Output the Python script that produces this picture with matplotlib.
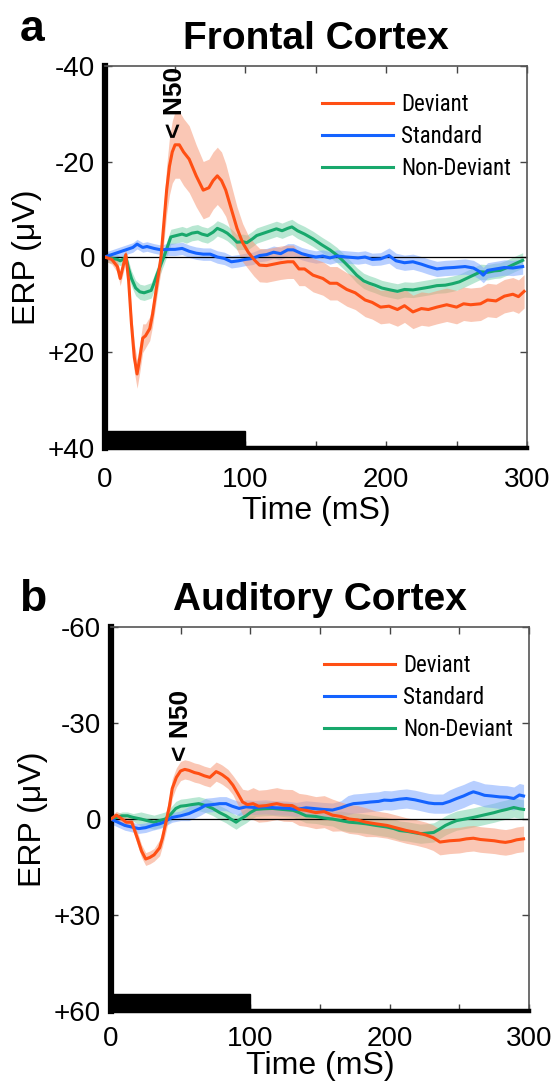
import matplotlib
matplotlib.use("Agg")
import numpy as np
import matplotlib.pyplot as plt
from matplotlib.font_manager import FontProperties

plt.rcParams["font.family"] = ["Liberation Sans", "DejaVu Sans"]

# ---- Frontal cortex (panel a) ----
fr_dev_t = [0, 5, 9, 11, 13, 15, 17, 19, 21, 23, 25, 27, 29, 32, 34, 36, 38, 40, 42, 44, 46, 48, 50, 53,
            56, 60, 65, 70, 74, 77, 80, 83, 86, 90, 94, 98, 102, 106, 110, 115, 120, 125, 130, 134, 138,
            142, 148, 155, 160, 165, 172, 178, 185, 190, 196, 202, 208, 213, 219, 225, 230, 236, 243,
            250, 255, 260, 267, 272, 278, 284, 290, 294, 298]
fr_dev_v = [0, 0.5, 2, 4.5, 2, -0.5, 5, 14, 21, 24.5, 21, 17, 16.5, 15, 12, 8, 4, 0, -7, -14, -19, -22,
            -23.5, -23.5, -22, -20.5, -17, -14, -14.5, -16, -17, -16, -14, -10, -6, -3, -1, 0.5, 1.7, 1.8,
            1.5, 1.2, 1.0, 1.0, 2.5, 2.5, 3.8, 4.5, 5.5, 5.5, 6.8, 7.5, 9, 9.5, 10.5, 10.3, 11, 10.2, 11.5,
            10.8, 11, 10.5, 10, 10.5, 9.8, 10, 9.8, 9, 9.2, 8.2, 7.8, 8.3, 7.2]
fr_dev_e = [0.8, 1, 1.2, 1.5, 1.5, 1.5, 2, 2.5, 3, 3, 3, 3, 2.5, 2.5, 2.5, 2.5, 2.5, 3, 4, 5, 6, 6.5,
            7, 7, 7, 7, 6.5, 6, 6, 6, 6, 6, 5.5, 5, 4.5, 4, 3.5, 3.5, 3.5, 3.5, 3.5, 3.5, 3.5, 3.5, 3.5,
            3.5, 3.5, 3.5, 3.5, 3.5, 3.5, 3.5, 3.5, 3.5, 3.5, 3.5, 3.5, 3.5, 3.5, 3.5, 3.5, 3.5, 3.5,
            3.5, 3.5, 3.5, 3.5, 3.5, 3.5, 3.5, 3.5, 3.5, 3.5]

fr_std_t = [0, 5, 10, 15, 20, 23, 27, 30, 35, 40, 45, 50, 55, 60, 65, 70, 75, 80, 85, 90, 95, 100, 105,
            110, 115, 120, 125, 130, 134, 140, 145, 150, 155, 160, 165, 172, 180, 185, 190, 196, 202,
            207, 213, 219, 225, 230, 236, 242, 248, 256, 262, 266, 269, 272, 278, 284, 290, 297]
fr_std_v = [0, -0.5, -1, -1.5, -2, -2.7, -2, -2.2, -1.8, -1.5, -1.6, -1.6, -1.8, -1.2, -0.8, -0.6, -0.6,
            0, 0.3, 1, 0.8, 0.5, 0.3, -0.3, -0.5, -1, -0.7, -1.5, -1.5, -0.7, -0.3, 0, -0.2, 0.2, -0.2,
            0, 0.2, 0, 0.5, 0.4, -0.3, 0.8, 1.2, 1, 1.5, 2, 2.5, 2.3, 2.2, 2, 2.3, 3, 3.8, 2.8, 2.5,
            2.2, 2.3, 2]
fr_std_e = [1.0] * 10 + [1.3] * 30 + [1.6] * 18

fr_non_t = [0, 5, 9, 11, 13, 15, 17, 19, 22, 25, 28, 31, 33, 35, 37, 40, 42, 45, 47, 51, 55, 58, 62,
            66, 69, 73, 77, 80, 84, 87, 91, 94, 98, 101, 105, 108, 113, 118, 122, 126, 130, 133, 137,
            142, 148, 154, 160, 165, 170, 175, 179, 184, 188, 192, 197, 203, 208, 213, 219, 225, 231,
            236, 242, 247, 252, 257, 262, 267, 272, 277, 281, 286, 291, 297]
fr_non_v = [0, 0.3, 0.5, 0.8, 0.5, 0, 2.5, 4.5, 6.5, 7.3, 7.5, 7.2, 7, 5.5, 3.8, 1.5, 0, -2.5, -4.2,
            -4.5, -4.8, -4.5, -5, -5.2, -4.8, -4.5, -5.2, -6, -5.5, -5, -4, -3.1, -3.2, -3, -3.8, -4.5,
            -5, -5.5, -5.9, -5.5, -6, -6.3, -5.5, -4.8, -3.8, -2.6, -1.5, -0.4, 1, 2.5, 3.8, 5, 5.5,
            5.9, 6.5, 6.9, 7.2, 6.8, 6.9, 6.6, 6.3, 6, 5.9, 5.6, 5.2, 4.5, 3.8, 3.1, 3.2, 2.9, 2.8,
            2.2, 1.5, 0.7]
fr_non_e = [1.0] * 6 + [1.6] * 68

# ---- Auditory cortex (panel b) ----
au_dev_t = [0, 4, 8, 11, 15, 19, 22, 25, 28, 31, 35, 37, 39.5, 42, 44, 47, 50, 53, 56, 60, 63, 67, 71,
            73, 75.5, 78, 80, 84, 87.5, 91, 94.5, 98, 102, 106, 111.5, 115, 119, 124, 130, 135, 140,
            147, 153, 159, 165, 171, 177, 183, 190, 198, 205, 212, 219, 226, 231, 236, 243, 250, 255,
            260, 265, 270, 275, 279, 283, 287, 291, 296]
au_dev_v = [0, -1.2, 0, 1, 1, 6, 10, 12.5, 12, 11.2, 9, 6, 1, -4, -9.5, -13, -15, -15.5, -15.2, -14.5,
            -14.2, -13.5, -13, -13.8, -14.8, -14.3, -13.8, -12.5, -10.6, -8, -5.3, -4.5, -4.8, -4,
            -4.2, -4.5, -4.8, -4.3, -4.2, -3, -2.7, -2, -2.3, -1.2, -0.8, 0, 0.3, 1, 1.5, 2, 2.8, 3.6,
            4.2, 5, 5.8, 7.2, 6.8, 6.6, 6.2, 6, 6.4, 6.6, 6.8, 7.1, 7.3, 7, 6.5, 6.2]
au_dev_e = [1.0, 1.2, 1.5, 1.5, 1.5, 2, 2, 2, 2, 2, 2.5, 2.5, 3, 3, 3, 3, 3, 3, 3, 3, 3, 3, 3, 3, 3,
            3, 3, 3, 3, 3.5, 4, 4.5, 5, 5, 5, 5, 5, 5, 5, 5, 5, 5, 5, 5, 4.5, 4.5, 4.5, 4.5, 4, 4, 4,
            4, 4, 4, 4, 4, 4, 4, 4, 4, 4, 4, 4, 4, 4, 4, 4, 4]

au_std_t = [0, 5, 10, 15, 20, 25, 30, 35, 38, 41, 44, 50, 56, 60, 64, 68, 73, 78, 82.6, 87, 92, 97,
            103, 111, 118, 126, 133, 140, 145, 152, 159, 165, 170, 174, 180, 186, 192, 196, 201, 207,
            212, 218, 223, 228, 232, 238, 243, 248, 253, 257, 260, 264, 268, 273, 279, 284, 289, 293,
            296]
au_std_v = [0, 1, 2, 2.5, 3, 2.7, 2, 1.5, 1, 0.2, -0.5, -1, -1.7, -2.5, -3.3, -4.3, -4.5, -4.8, -4.8,
            -4, -3.3, -3.8, -3.6, -3.8, -3.5, -3.4, -3, -3.5, -3.3, -3, -2.8, -3.5, -4.3, -4.8, -5,
            -5.3, -5.5, -5.9, -5.8, -6.2, -6.4, -6, -5.5, -5, -4.8, -4.8, -5.5, -6.4, -7.2, -8, -8.5,
            -8, -7.4, -7.2, -6.9, -6.8, -6.4, -7.5, -7.2]
au_std_e = [1.5] * 12 + [2.2] * 20 + [3.0] * 14 + [3.6] * 13

au_non_t = [0, 4, 8, 12, 16, 21.6, 26, 31, 35, 39, 43, 46.6, 50, 54, 58, 63, 68, 73, 78, 82.6, 86,
            89.8, 93, 97, 100, 104, 110, 116, 123, 130.7, 135, 140, 147, 153, 159, 165, 171, 177,
            183, 190, 198, 203, 207, 213, 218, 222, 227, 231.5, 236, 240, 244, 248, 254, 260, 265,
            270, 275, 279, 284, 289, 293, 296]
au_non_v = [0, -0.5, -1, -1, -0.5, 0, 0.5, 1, 0.5, 0, -1.5, -3.3, -4, -4.2, -4.5, -4.8, -4.2, -3.3,
            -2, -1, 0, 1, 0, -1, -2, -3, -3.2, -3.3, -3, -2.7, -2, -1, -0.8, -0.3, 0, 0.5, 1, 1.2,
            1.5, 2, 2.5, 3, 3.6, 3.9, 4.3, 4.6, 4.4, 4.2, 3.1, 2, 1.2, 0.5, 0, -0.5, -1, -1.5, -2,
            -2.5, -3, -3.6, -3.2, -3]
au_non_e = [1.2] * 5 + [2.2] * 30 + [3.0] * 27

labels = ["Deviant", "Standard", "Non-Deviant"]
colors = ["#ff4f14", "#1463ff", "#18a86c"]
band_colors = ["#f79a78", "#7fa8ff", "#7fd4ad"]

x_ticks = [0, 100, 200, 300]
x_minor = [50, 150, 250]
fr_yticks = [-40, -20, 0, 20, 40]
fr_ylabels = ["-40", "-20", "0", "+20", "+40"]
au_yticks = [-60, -30, 0, 30, 60]
au_ylabels = ["-60", "-30", "0", "+30", "+60"]
stim_on, stim_off = 0, 100
n50_t = 50

legend_families = ["Liberation Sans Narrow", "DejaVu Sans Condensed", "Roboto Condensed",
                   "Liberation Sans"]


def draw_panel(ax, series, yticks, ylabels, title, n50_y, xpad=14, xlabelpad=2):
    for (t, v, e), bc in zip(series[::-1], band_colors[::-1]):
        t, v, e = np.asarray(t), np.asarray(v), np.asarray(e)
        ax.fill_between(t, v - e, v + e, color=bc, alpha=0.55, lw=0, zorder=1)
    ax.axhline(0, color="k", lw=0.9, zorder=2)
    handles = []
    for (t, v, e), c, lab in zip(series[::-1], colors[::-1], labels[::-1]):
        h, = ax.plot(t, v, color=c, lw=2.2, label=lab, zorder=3)
        handles.append(h)
    handles = handles[::-1]

    ax.set_xlim(0, 300)
    ax.set_ylim(yticks[-1], yticks[0])
    ax.set_xticks(x_ticks)
    ax.set_xticks(x_minor, minor=True)
    ax.set_yticks(yticks)
    ax.set_yticklabels(ylabels)
    ax.tick_params(axis="both", which="both", direction="in", top=True, right=True,
                   length=5, width=1, color="#444444", labelsize=20)
    ax.tick_params(axis="x", pad=xpad)
    ax.tick_params(axis="y", pad=7)

    ax.spines["left"].set_linewidth(4.5)
    ax.spines["bottom"].set_linewidth(3.2)
    for s in ["top", "right"]:
        ax.spines[s].set_linewidth(1.2)
        ax.spines[s].set_color("#555555")

    # stimulus bar
    ax.axvspan(stim_on, stim_off, ymin=0, ymax=0.045, color="k", zorder=4)

    ax.set_xlabel("Time (mS)", fontsize=23, labelpad=xlabelpad)
    ax.set_ylabel("ERP (\u03bcV)", fontsize=23, labelpad=4)
    ax.set_title(title, fontsize=28, fontweight="bold", pad=12)

    ax.text(n50_t, n50_y, "< N50", rotation=90, ha="center", va="bottom",
            fontsize=19, fontweight="bold", zorder=5)

    leg_font = FontProperties(family=legend_families, size=16.5)
    ax.legend(handles=handles, loc="upper right", bbox_to_anchor=(0.995, 0.965), frameon=False,
              prop=leg_font, handlelength=3.1, handletextpad=0.35, labelspacing=0.38,
              borderaxespad=0.2)


fig = plt.figure(figsize=(5.57, 10.86), dpi=100)
ax_a = fig.add_axes([0.188, 0.5875, 0.758, 0.3517])
ax_b = fig.add_axes([0.199, 0.069, 0.751, 0.3537])

draw_panel(ax_a,
           [(fr_dev_t, fr_dev_v, fr_dev_e), (fr_std_t, fr_std_v, fr_std_e), (fr_non_t, fr_non_v, fr_non_e)],
           fr_yticks, fr_ylabels, "Frontal Cortex", -25)
draw_panel(ax_b,
           [(au_dev_t, au_dev_v, au_dev_e), (au_std_t, au_std_v, au_std_e), (au_non_t, au_non_v, au_non_e)],
           au_yticks, au_ylabels, "Auditory Cortex", -18, xpad=11, xlabelpad=-1)

fig.text(0.035, 0.962, "a", fontsize=32, fontweight="bold")
fig.text(0.035, 0.437, "b", fontsize=32, fontweight="bold")

fig.savefig("out.png", dpi=100)
plt.close(fig)
